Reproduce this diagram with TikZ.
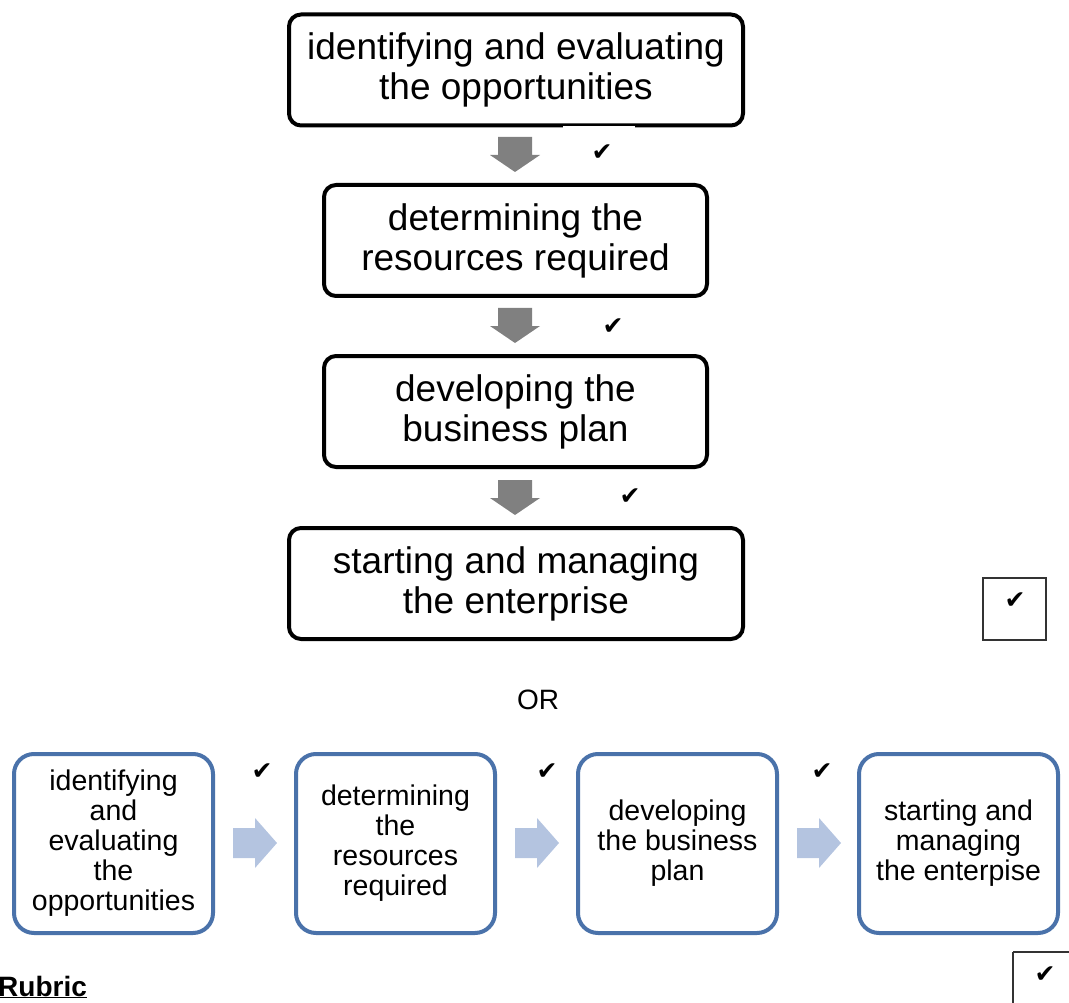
\documentclass[tikz,border=0pt]{standalone}
\usepackage{fontspec}
\setmainfont{Liberation Sans}
\newfontfamily\symfont{DejaVu Sans}
\definecolor{boxblue}{RGB}{74,114,170}
\definecolor{arrblue}{RGB}{180,196,224}
\definecolor{arrgray}{RGB}{128,128,128}
\tikzset{
  bigbox/.style={draw=black, line width=4pt, rounded corners=12pt, fill=white,
    align=center, inner sep=0pt, minimum height=111pt,
    font=\fontsize{37}{40}\selectfont},
  smallbox/.style={draw=boxblue, line width=4pt, rounded corners=20pt,
    align=center, inner sep=0pt, minimum width=199pt, minimum height=179pt,
    font=\fontsize{28.5}{30}\selectfont},
  tick/.style={inner sep=0pt, font=\symfont\fontsize{25}{25}\selectfont},
  tickbox/.style={draw=black!80, line width=1.3pt},
  downarr/.pic={\fill[arrgray] (-17,0) -- (17,0) -- (17,18) -- (25,18) -- (0,35) -- (-25,18) -- (-17,18) -- cycle;},
  rightarr/.pic={\fill[arrblue] (0,-15) -- (22,-15) -- (22,-25) -- (44,0) -- (22,25) -- (22,15) -- (0,15) -- cycle;}
}
\begin{document}
\begin{tikzpicture}[x=1pt,y=-1pt]
\useasboundingbox (0,0) rectangle (1069,1003);
% vertical flow
\node[bigbox, minimum width=454pt] (b1) at (516,70) {identifying and evaluating\\the opportunities};
\node[bigbox, minimum width=383pt] (b2) at (515.5,240.5) {determining the\\resources required};
\node[bigbox, minimum width=383pt] (b3) at (515.5,411.5) {developing the\\business plan};
\node[bigbox, minimum width=454pt] (b4) at (516,583.5) {starting and managing\\the enterprise};
\fill[white] (563,126.5) rectangle (635,131);
\coordinate (a1) at (515,137);
\coordinate (a2) at (515,308);
\coordinate (a3) at (515,480);
\pic at (a1) {downarr};
\pic at (a2) {downarr};
\pic at (a3) {downarr};
\node[tick] (t1) at (602,153) {✔};
\node[tick] (t2) at (613,327) {✔};
\node[tick] (t3) at (630,497) {✔};
\draw[tickbox] (983,578) rectangle (1046,640);
\node[tick] (t4) at (1015,601) {✔};
% OR
\node[font=\fontsize{28}{30}\selectfont, inner sep=0pt] (or) at (538,700) {OR};
% horizontal flow
\node[smallbox] (s1) at (113.5,843.5) {identifying\\and\\evaluating\\the\\opportunities};
\node[smallbox] (s2) at (395.5,843.5) {determining\\the\\resources\\required};
\node[smallbox] (s3) at (677.5,843.5) {developing\\the business\\plan};
\node[smallbox] (s4) at (958.5,843.5) {starting and\\managing\\the enterpise};
\coordinate (r1) at (233,843);
\coordinate (r2) at (515,843);
\coordinate (r3) at (797,843);
\pic at (r1) {rightarr};
\pic at (r2) {rightarr};
\pic at (r3) {rightarr};
\node[tick] (u1) at (262,772) {✔};
\node[tick] (u2) at (547,772) {✔};
\node[tick] (u3) at (822,772) {✔};
\draw[tickbox] (1013,952) -- (1013,1010) (1013,952) -- (1075,952);
\node[tick] (u4) at (1045,975) {✔};
% Rubric
\node[anchor=base west, inner sep=0pt, font=\bfseries\fontsize{28}{30}\selectfont] (rub) at (-2,996) {\underline{Rubric}};
\end{tikzpicture}
\end{document}
